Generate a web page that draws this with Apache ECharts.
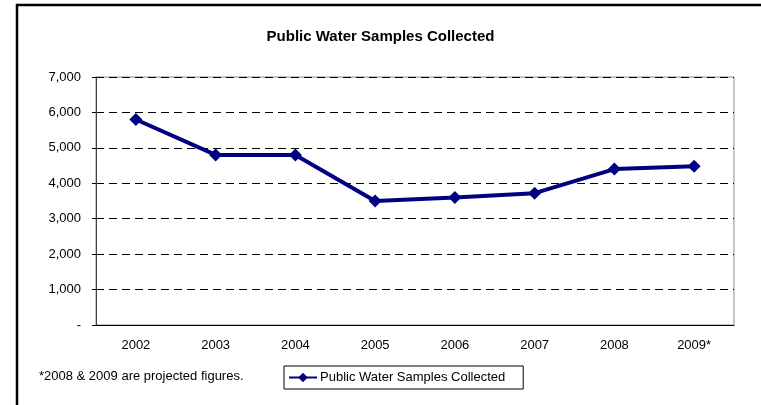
<!DOCTYPE html>
<html>
<head>
<meta charset="utf-8">
<style>
  html, body { margin: 0; padding: 0; background: #fff; }
  #chart { width: 761px; height: 405px; }
</style>
<script src="https://cdn.jsdelivr.net/npm/echarts@6/dist/echarts.min.js"></script>
</head>
<body>
<div id="chart"></div>
<script>
// Yearly counts of public water samples (2008 and 2009 are projections)
const years = ['2002', '2003', '2004', '2005', '2006', '2007', '2008', '2009*'];
const samples = [5800, 4800, 4800, 3500, 3600, 3720, 4400, 4480];
const yTicks = [0, 1000, 2000, 3000, 4000, 5000, 6000, 7000];
const seriesName = 'Public Water Samples Collected';
const footnote = '*2008 & 2009 are projected figures.';

const FONT = 'Liberation Sans, Arial, sans-serif';
const NAVY = '#000080';

const chart = echarts.init(document.getElementById('chart'), null, { renderer: 'canvas' });

chart.setOption({
  animation: false,
  backgroundColor: '#fff',
  textStyle: { fontFamily: FONT },
  title: {
    text: 'Public Water Samples Collected',
    left: 'center',
    top: 24,
    textStyle: { fontFamily: FONT, fontSize: 15, fontWeight: 'bold', color: '#000' }
  },
  grid: { left: 96, right: 27, top: 77, bottom: 80, containLabel: false,
          show: true, borderColor: '#8c8c8c', borderWidth: 1, backgroundColor: '#fff' },
  legend: {
    data: [seriesName],
    left: 284,
    top: 366,
    orient: 'horizontal',
    itemWidth: 28,
    itemHeight: 12,
    padding: [5, 18, 5, 4],
    borderColor: '#000',
    borderWidth: 1,
    borderRadius: 0,
    textStyle: { fontFamily: FONT, fontSize: 13, color: '#000', padding: [0, 0, 0, -2] }
  },
  xAxis: {
    type: 'category',
    data: years,
    boundaryGap: true,
    axisLine: { show: true, lineStyle: { color: '#000', width: 1 } },
    axisTick: { show: false },
    axisLabel: { fontFamily: FONT, fontSize: 13, color: '#000', margin: 14 },
    splitLine: { show: false }
  },
  yAxis: {
    type: 'value',
    min: yTicks[0],
    max: yTicks[yTicks.length - 1],
    interval: yTicks[1] - yTicks[0],
    axisLine: { show: true, lineStyle: { color: '#404040', width: 1 } },
    axisTick: { show: true, inside: false, length: 4, lineStyle: { color: '#000' } },
    axisLabel: {
      fontFamily: FONT, fontSize: 13, color: '#000', margin: 15,
      formatter: v => v === 0 ? '-' : v.toLocaleString('en-US')
    },
    splitLine: { show: true, lineStyle: { color: '#000', type: [8, 5], width: 1 } }
  },
  series: [{
    name: seriesName,
    type: 'line',
    data: samples,
    color: NAVY,
    lineStyle: { color: NAVY, width: 4 },
    itemStyle: { color: NAVY },
    symbol: 'diamond',
    symbolSize: 13,
    showSymbol: true
  }],
  graphic: [
    {
      type: 'rect',
      shape: { x: 17, y: 5, width: 800, height: 450 },
      style: { fill: 'none', stroke: '#000', lineWidth: 2.5 },
      silent: true,
      z: 100
    },
    {
      type: 'text',
      left: 39,
      top: 370,
      style: { text: footnote, font: '13px ' + FONT, fill: '#000' }
    }
  ]
});
</script>
</body>
</html>
